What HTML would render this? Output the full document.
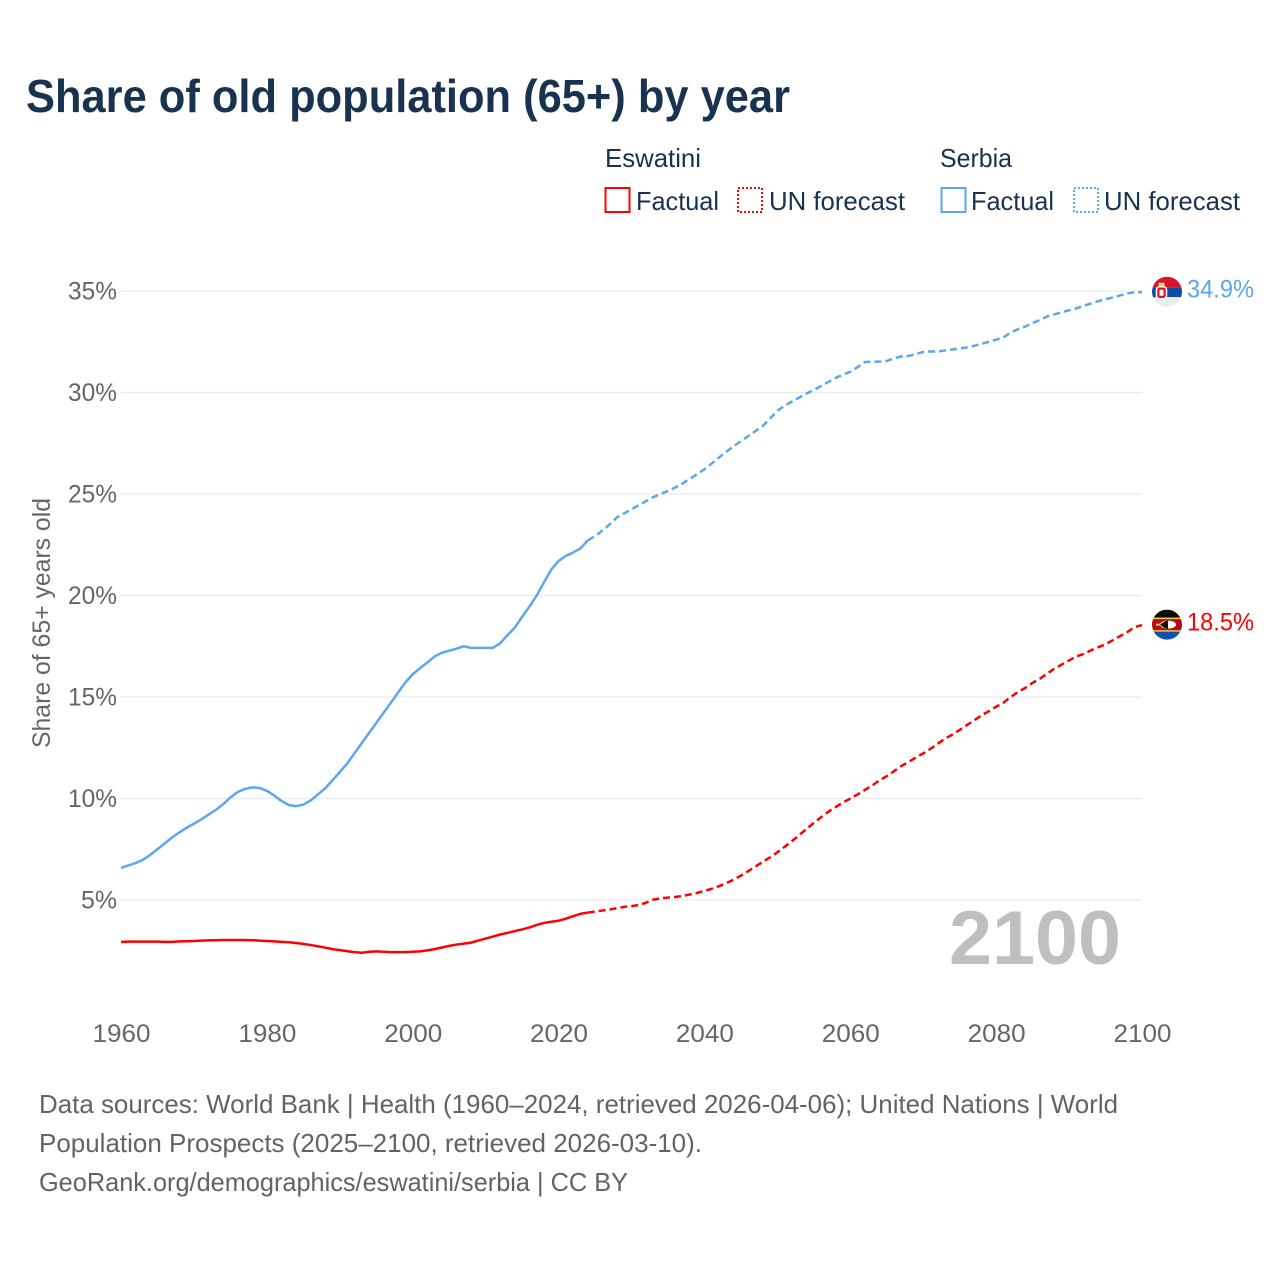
<!DOCTYPE html>
<html lang="en">
<head>
<meta charset="utf-8">
<title>Share of old population (65+) by year</title>
<style>
html,body{margin:0;padding:0;background:#fff;width:1280px;height:1280px;overflow:hidden}
svg{display:block}
text{font-family:"Liberation Sans",sans-serif}
</style>
</head>
<body>
<svg id="chart" xmlns="http://www.w3.org/2000/svg" width="1280" height="1280" viewBox="0 0 1280 1280">
  <rect width="1280" height="1280" fill="#fff"/>
  <text x="26" y="112" font-size="46" font-weight="700" fill="#18324f" textLength="764" lengthAdjust="spacingAndGlyphs">Share of old population (65+) by year</text>

  <g font-size="26" fill="#18324f">
    <text x="605" y="167" textLength="96" lengthAdjust="spacingAndGlyphs">Eswatini</text>
    <text x="940" y="167" textLength="72" lengthAdjust="spacingAndGlyphs">Serbia</text>
    <rect x="605.5" y="188" width="24" height="24" fill="none" stroke="#ff0000" stroke-width="2"/>
    <text x="636" y="210" textLength="83" lengthAdjust="spacingAndGlyphs">Factual</text>
    <rect x="738" y="188" width="24" height="24" fill="none" stroke="#ff0000" stroke-width="2" stroke-dasharray="2,2"/>
    <text x="769" y="210" textLength="136" lengthAdjust="spacingAndGlyphs">UN forecast</text>
    <rect x="941.5" y="188" width="24" height="24" fill="none" stroke="#5ea6ec" stroke-width="2"/>
    <text x="971" y="210" textLength="83" lengthAdjust="spacingAndGlyphs">Factual</text>
    <rect x="1074" y="188" width="24" height="24" fill="none" stroke="#5ea6ec" stroke-width="2" stroke-dasharray="2,2"/>
    <text x="1104" y="210" textLength="136" lengthAdjust="spacingAndGlyphs">UN forecast</text>
  </g>

  <g id="grid"></g>
  <g id="yticks"></g>
  <g id="xticks"></g>
  <text transform="translate(50,623) rotate(-90)" text-anchor="middle" font-size="25" fill="#666" textLength="250" lengthAdjust="spacingAndGlyphs">Share of 65+ years old</text>
  <text x="949" y="964" font-size="76" font-weight="700" fill="#bfbfbf" textLength="172" lengthAdjust="spacingAndGlyphs">2100</text>
  <g id="series"></g>
  <g id="ends"></g>

  <g font-size="26" fill="#636363">
    <text x="39" y="1113" textLength="1079" lengthAdjust="spacingAndGlyphs">Data sources: World Bank | Health (1960–2024, retrieved 2026-04-06); United Nations | World</text>
    <text x="39" y="1152" textLength="663" lengthAdjust="spacingAndGlyphs">Population Prospects (2025–2100, retrieved 2026-03-10).</text>
    <text x="39" y="1191" textLength="589" lengthAdjust="spacingAndGlyphs">GeoRank.org/demographics/eswatini/serbia | CC BY</text>
  </g>
</svg>
<script>
const firstYear = 1960;
const lastFactualYear = 2024;
const yTickValues = [5, 10, 15, 20, 25, 30, 35];
const xTickYears = [1960, 1980, 2000, 2020, 2040, 2060, 2080, 2100];
const serbiaValues = [
  6.58,6.70,6.82,6.98,7.22,7.50,7.79,8.08,8.33,8.56,
  8.76,8.97,9.20,9.44,9.72,10.05,10.32,10.47,10.55,10.52,
  10.38,10.15,9.88,9.68,9.62,9.70,9.90,10.20,10.50,10.90,
  11.30,11.72,12.22,12.72,13.22,13.72,14.22,14.72,15.22,15.72,
  16.12,16.42,16.70,17.00,17.18,17.28,17.38,17.50,17.42,17.42,
  17.42,17.42,17.65,18.05,18.42,18.95,19.45,20.00,20.65,21.28,
  21.70,21.95,22.12,22.32,22.72,22.92,23.20,23.50,23.85,24.05,
  24.25,24.45,24.65,24.85,25.00,25.15,25.32,25.52,25.75,25.98,
  26.22,26.50,26.80,27.08,27.35,27.60,27.85,28.10,28.35,28.72,
  29.10,29.35,29.55,29.75,29.95,30.12,30.32,30.52,30.72,30.88,
  31.02,31.25,31.50,31.52,31.52,31.55,31.68,31.78,31.80,31.90,
  32.00,32.02,32.02,32.07,32.12,32.17,32.22,32.30,32.40,32.50,
  32.60,32.72,32.95,33.12,33.25,33.42,33.57,33.75,33.85,33.95,
  34.05,34.15,34.27,34.38,34.50,34.60,34.68,34.78,34.88,34.94,
  34.94
];
const eswatiniValues = [
  2.93,2.95,2.95,2.95,2.95,2.95,2.94,2.94,2.96,2.97,
  2.98,3.00,3.01,3.02,3.03,3.03,3.03,3.03,3.02,3.00,
  2.98,2.96,2.94,2.92,2.88,2.84,2.78,2.72,2.65,2.58,
  2.53,2.48,2.43,2.40,2.45,2.47,2.45,2.43,2.43,2.43,
  2.45,2.47,2.52,2.58,2.66,2.74,2.80,2.85,2.90,3.00,
  3.10,3.20,3.30,3.38,3.47,3.55,3.65,3.77,3.87,3.93,
  3.98,4.08,4.20,4.32,4.38,4.43,4.48,4.53,4.60,4.66,
  4.70,4.75,4.87,5.02,5.08,5.12,5.15,5.20,5.27,5.35,
  5.45,5.55,5.68,5.83,6.00,6.20,6.42,6.65,6.88,7.10,
  7.35,7.62,7.90,8.20,8.50,8.80,9.08,9.35,9.58,9.80,
  10.00,10.20,10.42,10.64,10.90,11.10,11.35,11.60,11.80,12.02,
  12.22,12.45,12.70,12.95,13.15,13.38,13.62,13.85,14.10,14.30,
  14.52,14.72,15.00,15.25,15.45,15.70,15.90,16.15,16.40,16.60,
  16.80,17.00,17.12,17.30,17.45,17.60,17.80,18.00,18.20,18.45,
  18.54
];

const plotLeft = 121, plotRight = 1142, yearSpan = 140;
const NS = 'http://www.w3.org/2000/svg';
function xScale(year) { return plotLeft + (year - firstYear) * (plotRight - plotLeft) / yearSpan; }
function yScale(value) { return 1001.5 - value * 20.3; }
function svgEl(tag, attrs) {
  const el = document.createElementNS(NS, tag);
  for (const k in attrs) el.setAttribute(k, attrs[k]);
  return el;
}
function pointsFor(values, fromYear, toYear) {
  const pts = [];
  values.forEach(function (v, i) {
    const yr = firstYear + i;
    if (yr >= fromYear && yr <= toYear) pts.push(xScale(yr).toFixed(2) + ',' + yScale(v).toFixed(2));
  });
  return pts.join(' ');
}

const gridG = document.getElementById('grid');
const yG = document.getElementById('yticks');
yTickValues.forEach(function (v) {
  const line = svgEl('line', { x1: plotLeft, x2: plotRight, y1: yScale(v), y2: yScale(v), stroke: '#ebebeb', 'stroke-width': 1.2 });
  
  
  gridG.appendChild(line);
  const t = svgEl('text', { x: 117, y: yScale(v) + 8.5, 'text-anchor': 'end', 'font-size': 25, fill: '#666', textLength: v < 10 ? 36 : 49, lengthAdjust: 'spacingAndGlyphs' });
  
  
  t.textContent = v + '%';
  yG.appendChild(t);
});

const xG = document.getElementById('xticks');
xTickYears.forEach(function (yr) {
  const t = svgEl('text', { x: xScale(yr) + 0.5, y: 1042, 'text-anchor': 'middle', 'font-size': 25, fill: '#666', textLength: 58, lengthAdjust: 'spacingAndGlyphs' });
  
  
  t.textContent = yr;
  xG.appendChild(t);
});

const seriesG = document.getElementById('series');
const endYear = firstYear + yearSpan;

const serbiaFactual = svgEl('polyline', { points: pointsFor(serbiaValues, firstYear, lastFactualYear), fill: 'none', stroke: '#5ea6ec', 'stroke-width': 2.5, 'stroke-linejoin': 'round' });


seriesG.appendChild(serbiaFactual);

const serbiaForecast = svgEl('polyline', { points: pointsFor(serbiaValues, lastFactualYear, endYear), fill: 'none', stroke: '#5ea6ec', 'stroke-width': 2.5, 'stroke-dasharray': '7,4', 'stroke-linejoin': 'round' });


seriesG.appendChild(serbiaForecast);

const eswatiniFactual = svgEl('polyline', { points: pointsFor(eswatiniValues, firstYear, lastFactualYear), fill: 'none', stroke: '#ff0000', 'stroke-width': 2.5, 'stroke-linejoin': 'round' });


seriesG.appendChild(eswatiniFactual);

const eswatiniForecast = svgEl('polyline', { points: pointsFor(eswatiniValues, lastFactualYear, endYear), fill: 'none', stroke: '#ff0000', 'stroke-width': 2.5, 'stroke-dasharray': '7,4', 'stroke-linejoin': 'round' });


seriesG.appendChild(eswatiniForecast);

const endsG = document.getElementById('ends');
const flagX = 1167;

/* Serbia flag, positioned from the last value */
const serbiaLast = serbiaValues[serbiaValues.length - 1];
const serbiaY = yScale(serbiaLast) - 0.5;
const sFlag = svgEl('g', { transform: 'translate(' + flagX + ',' + serbiaY + ')' });


sFlag.innerHTML =
  '<clipPath id="clipS"><circle r="15"/></clipPath>' +
  '<g clip-path="url(#clipS)">' +
  '<rect x="-15" y="-15" width="30" height="10.5" fill="#d8142f"/>' +
  '<rect x="-15" y="-4.5" width="30" height="10" fill="#0c4da2"/>' +
  '<rect x="-15" y="5.5" width="30" height="10" fill="#ececec"/>' +
  '<rect x="-10.5" y="-5" width="10" height="12" rx="3" fill="#d8142f" stroke="#fff" stroke-width="1.5"/>' +
  '<rect x="-8.5" y="-9" width="6" height="3.5" fill="#f3d36b"/>' +
  '<rect x="-7.5" y="-2" width="4" height="6" fill="#fff"/>' +
  '</g>';
endsG.appendChild(sFlag);

const serbiaLabel = svgEl('text', { x: 1187, y: yScale(serbiaLast) + 5.5, 'font-size': 25, fill: '#5ea6ec', textLength: 67, lengthAdjust: 'spacingAndGlyphs' });


serbiaLabel.textContent = serbiaLast.toFixed(1) + '%';
endsG.appendChild(serbiaLabel);

/* Eswatini flag, positioned from the last value */
const eswatiniLast = eswatiniValues[eswatiniValues.length - 1];
const eswatiniY = yScale(eswatiniLast) - 0.5;
const eFlag = svgEl('g', { transform: 'translate(' + flagX + ',' + eswatiniY + ')' });


eFlag.innerHTML =
  '<clipPath id="clipE"><circle r="15"/></clipPath>' +
  '<g clip-path="url(#clipE)">' +
  '<rect x="-15" y="-15" width="30" height="8" fill="#0a0a0a"/>' +
  '<rect x="-15" y="-7" width="30" height="14" fill="#f2c230"/>' +
  '<rect x="-15" y="-5.5" width="30" height="11" fill="#b10c1c"/>' +
  '<rect x="-15" y="7" width="30" height="8.5" fill="#0b52b0"/>' +
  '<ellipse cx="1" cy="0" rx="8" ry="4" fill="#fff"/>' +
  '<path d="M-7 0Q-2-4 1-4V4Q-3 4-7 0Z" fill="#111"/>' +
  '<rect x="-11" y="-1" width="4" height="2" fill="#f2c230"/>' +
  '</g>';
endsG.appendChild(eFlag);

const eswatiniLabel = svgEl('text', { x: 1187, y: yScale(eswatiniLast) + 5.5, 'font-size': 25, fill: '#ff0000', textLength: 67, lengthAdjust: 'spacingAndGlyphs' });


eswatiniLabel.textContent = eswatiniLast.toFixed(1) + '%';
endsG.appendChild(eswatiniLabel);
</script>
</body>
</html>
